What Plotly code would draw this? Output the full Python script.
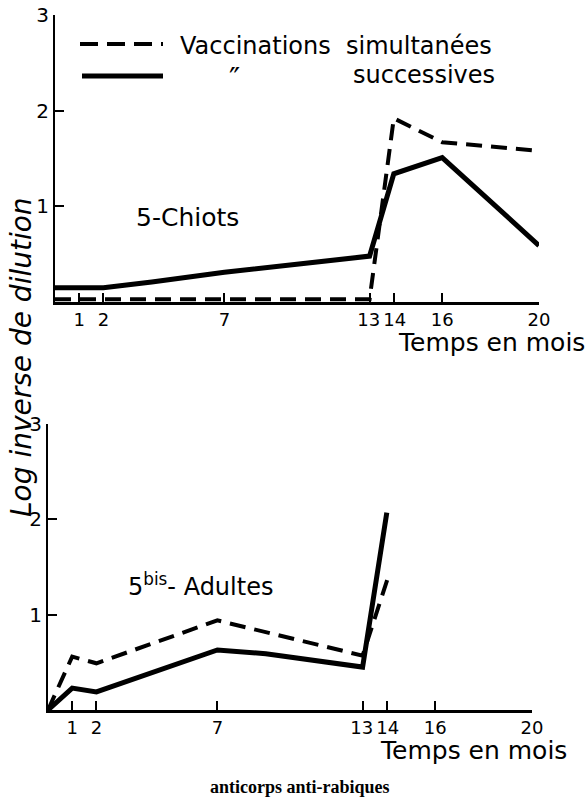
import plotly.graph_objects as go

W, H = 587, 802

# ---- data ----
top_months_succ = [0, 2, 4, 7, 13, 14, 16, 20]
top_succ = [0.15, 0.15, 0.21, 0.31, 0.48, 1.34, 1.51, 0.59]
top_months_simul = [0, 13, 14, 16, 20]
top_simul = [0.03, 0.03, 1.92, 1.67, 1.58]

bot_months_succ = [0, 1, 2, 7, 9, 13, 14]
bot_succ = [0.0, 0.23, 0.19, 0.63, 0.59, 0.45, 2.07]
bot_months_simul = [0, 1, 2, 7, 13, 14.1]
bot_simul = [0.0, 0.56, 0.49, 0.94, 0.57, 1.43]

x_ticks = [1, 2, 7, 13, 14, 16, 20]
x_tick_labels = ["1", "2", "7", "13\u200a", "\u200a14", "16", "20"]
y_ticks = [1, 2, 3]

FONT = "DejaVu Sans"
DASH = "16px,9px"

def px(x):
    return x / W

def py(y):
    return 1 - y / H

fig = go.Figure()

fig.add_trace(go.Scatter(x=top_months_simul, y=top_simul, mode="lines",
                         line=dict(color="black", width=4, dash=DASH),
                         xaxis="x", yaxis="y", cliponaxis=False, showlegend=False))
fig.add_trace(go.Scatter(x=top_months_succ, y=top_succ, mode="lines",
                         line=dict(color="black", width=5),
                         xaxis="x", yaxis="y", cliponaxis=False, showlegend=False))
fig.add_trace(go.Scatter(x=bot_months_simul, y=bot_simul, mode="lines",
                         line=dict(color="black", width=4, dash=DASH),
                         xaxis="x2", yaxis="y2", cliponaxis=False, showlegend=False))
fig.add_trace(go.Scatter(x=bot_months_succ, y=bot_succ, mode="lines",
                         line=dict(color="black", width=5),
                         xaxis="x2", yaxis="y2", cliponaxis=False, showlegend=False))

xcommon = dict(range=[0, 20], tickvals=x_ticks, ticktext=x_tick_labels,
               tickangle=0, automargin=False,
               showline=True, linecolor="black", linewidth=2.5, ticks="inside",
               ticklen=9, tickwidth=1.5, tickcolor="black", showgrid=False, zeroline=False,
               tickfont=dict(family=FONT, size=18, color="black"))
ycommon = dict(range=[0, 3], tickvals=y_ticks, ticktext=[str(v) for v in y_ticks],
               tickangle=0, automargin=False,
               showline=True, linecolor="black", linewidth=2, ticks="inside",
               ticklen=9, tickwidth=1.5, tickcolor="black", showgrid=False, zeroline=False,
               tickfont=dict(family=FONT, size=20, color="black"))

fig.update_layout(
    width=W, height=H, margin=dict(l=0, r=0, t=0, b=0, autoexpand=False),
    paper_bgcolor="white", plot_bgcolor="white",
    xaxis=dict(domain=[px(55), px(539)], anchor="y", **xcommon),
    yaxis=dict(domain=[py(302), py(15)], anchor="x", **ycommon),
    xaxis2=dict(domain=[px(48), px(532)], anchor="y2", **xcommon),
    yaxis2=dict(domain=[py(710), py(424)], anchor="x2", **ycommon),
)

# legend samples
fig.add_shape(type="line", xref="paper", yref="paper", x0=px(80), x1=px(163), y0=py(44), y1=py(44),
              line=dict(color="black", width=4, dash="18px,9px"))
fig.add_shape(type="line", xref="paper", yref="paper", x0=px(82), x1=px(163), y0=py(76), y1=py(76),
              line=dict(color="black", width=5))

def ann(text, x, y, size=22, xanchor="left", family=FONT, **kw):
    fig.add_annotation(text=text, x=px(x), y=py(y), xref="paper", yref="paper",
                       showarrow=False, xanchor=xanchor, yanchor="middle",
                       font=dict(family=family, size=size, color="black"), **kw)

ann("Vaccinations  simultanées", 178, 46, size=24)
ann("″", 234, 78, size=30, xanchor="center")
ann("successives", 351, 75, size=24)
ann("5-Chiots", 134, 217, size=25)
ann("5<sup>bis</sup>- Adultes", 126, 585, size=24)
ann("Temps en mois", 587, 343, size=25, xanchor="right")
ann("Temps en mois", 569, 750, size=25, xanchor="right")
ann("<i>Log inverse de dilution</i>", 21, 357, size=28, xanchor="center", textangle=-90)
ann("<b>anticorps anti-rabiques</b>", 300, 787, size=18, xanchor="center", family="Liberation Serif")

fig.write_html("out.html")
